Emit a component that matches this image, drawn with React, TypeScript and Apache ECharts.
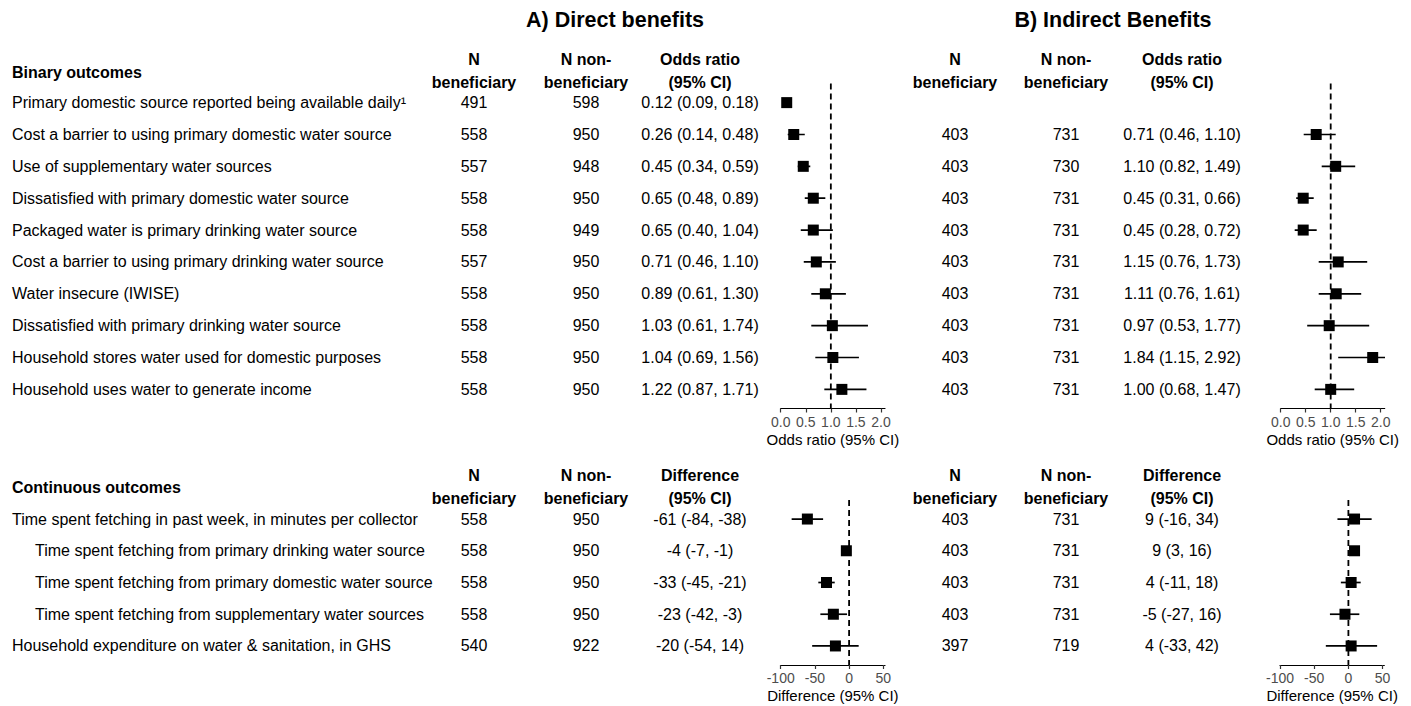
import React, { useEffect, useRef } from "react";
import * as echarts from "echarts";

const FONT = "'Liberation Sans', Arial, Helvetica, sans-serif";

// ---------- Binary outcomes ----------
const binaryOutcomes = [
  "Primary domestic source reported being available daily\u00B9",
  "Cost a barrier to using primary domestic water source",
  "Use of supplementary water sources",
  "Dissatisfied with primary domestic water source",
  "Packaged water is primary drinking water source",
  "Cost a barrier to using primary drinking water source",
  "Water insecure (IWISE)",
  "Dissatisfied with primary drinking water source",
  "Household stores water used for domestic purposes",
  "Household uses water to generate income",
];
const binaryDirectNBen = [491, 558, 557, 558, 558, 557, 558, 558, 558, 558];
const binaryDirectNNon = [598, 950, 948, 950, 949, 950, 950, 950, 950, 950];
const binaryDirectEst = [0.12, 0.26, 0.45, 0.65, 0.65, 0.71, 0.89, 1.03, 1.04, 1.22];
const binaryDirectLo = [0.09, 0.14, 0.34, 0.48, 0.4, 0.46, 0.61, 0.61, 0.69, 0.87];
const binaryDirectHi = [0.18, 0.48, 0.59, 0.89, 1.04, 1.1, 1.3, 1.74, 1.56, 1.71];

const binaryIndirectNBen = [null, 403, 403, 403, 403, 403, 403, 403, 403, 403];
const binaryIndirectNNon = [null, 731, 730, 731, 731, 731, 731, 731, 731, 731];
const binaryIndirectEst = [null, 0.71, 1.1, 0.45, 0.45, 1.15, 1.11, 0.97, 1.84, 1.0];
const binaryIndirectLo = [null, 0.46, 0.82, 0.31, 0.28, 0.76, 0.76, 0.53, 1.15, 0.68];
const binaryIndirectHi = [null, 1.1, 1.49, 0.66, 0.72, 1.73, 1.61, 1.77, 2.92, 1.47];

// ---------- Continuous outcomes ----------
const contOutcomes = [
  "Time spent fetching in past week, in minutes per collector",
  "Time spent fetching from primary drinking water source",
  "Time spent fetching from primary domestic water source",
  "Time spent fetching from supplementary water sources",
  "Household expenditure on water & sanitation, in GHS",
];
const contIndent = [false, true, true, true, false];
const contDirectNBen = [558, 558, 558, 558, 540];
const contDirectNNon = [950, 950, 950, 950, 922];
const contDirectEst = [-61, -4, -33, -23, -20];
const contDirectLo = [-84, -7, -45, -42, -54];
const contDirectHi = [-38, -1, -21, -3, 14];

const contIndirectNBen = [403, 403, 403, 403, 397];
const contIndirectNNon = [731, 731, 731, 731, 719];
const contIndirectEst = [9, 9, 4, -5, 4];
const contIndirectLo = [-16, 3, -11, -27, -33];
const contIndirectHi = [34, 16, 18, 16, 42];

const orTicks = [0, 0.5, 1, 1.5, 2];
const diffTicks = [-100, -50, 0, 50];

type Panel = {
  est: (number | null)[];
  lo: (number | null)[];
  hi: (number | null)[];
  ref: number;
};

const fmtOR = (e: number | null, l: number | null, h: number | null) =>
  e == null ? "" : `${e.toFixed(2)} (${(l as number).toFixed(2)}, ${(h as number).toFixed(2)})`;
const fmtDiff = (e: number | null, l: number | null, h: number | null) =>
  e == null ? "" : `${e} (${l}, ${h})`;

export default function App() {
  const ref = useRef<HTMLDivElement>(null);
  useEffect(() => {
    const chart = echarts.init(ref.current!, null, { renderer: "svg" });

    const topGrid = { top: 83.5, height: 325 };
    const botGrid = { top: 500, height: 165 };
    const grids = [
      { left: 780.7, width: 104.3, ...topGrid },
      { left: 1280.7, width: 104.0, ...topGrid },
      { left: 780.7, width: 104.3, ...botGrid },
      { left: 1280.0, width: 104.3, ...botGrid },
    ];
    const isOR = [true, true, false, false];
    const yMax = [9.6, 9.6, 4.6, 4.6];

    const panels: Panel[] = [
      { est: binaryDirectEst, lo: binaryDirectLo, hi: binaryDirectHi, ref: 1 },
      { est: binaryIndirectEst, lo: binaryIndirectLo, hi: binaryIndirectHi, ref: 1 },
      { est: contDirectEst, lo: contDirectLo, hi: contDirectHi, ref: 0 },
      { est: contIndirectEst, lo: contIndirectLo, hi: contIndirectHi, ref: 0 },
    ];

    const xAxes = grids.map((_, g) => ({
      type: "value",
      gridIndex: g,
      min: isOR[g] ? 0 : -100,
      max: isOR[g] ? 2.08 : 52.5,
      splitLine: { show: false },
      axisLine: { show: true, onZero: false, lineStyle: { color: "#000", width: 1.2 } },
      axisTick: {
        show: true,
        length: 4,
        lineStyle: { color: "#333", width: 1.2 },
        customValues: isOR[g] ? orTicks : diffTicks,
      },
      axisLabel: {
        customValues: isOR[g] ? orTicks : diffTicks,
        formatter: (v: number) => (isOR[g] ? v.toFixed(1) : String(v)),
        color: "#4D4D4D",
        fontSize: 14,
        fontFamily: FONT,
        margin: 6,
        hideOverlap: false,
      },
      name: isOR[g] ? "Odds ratio (95% CI)" : "Difference (95% CI)",
      nameLocation: "middle",
      nameGap: 23,
      nameTextStyle: { color: "#000", fontSize: 15, fontFamily: FONT },
    }));

    const yAxes = grids.map((_, g) => ({
      type: "value",
      gridIndex: g,
      inverse: true,
      min: -0.6,
      max: yMax[g],
      show: false,
    }));

    const series: any[] = [];
    panels.forEach((p, g) => {
      series.push({
        type: "line",
        xAxisIndex: g,
        yAxisIndex: g,
        data: [
          [p.ref, -0.6],
          [p.ref, yMax[g]],
        ],
        symbol: "none",
        lineStyle: { color: "#000", width: 1.8, type: [6, 4] },
        z: 1,
        silent: true,
      });
      const bars: number[][] = [];
      const pts: number[][] = [];
      p.est.forEach((e, i) => {
        if (e == null) return;
        bars.push([p.lo[i] as number, p.hi[i] as number, i]);
        pts.push([e, i]);
      });
      series.push({
        type: "custom",
        xAxisIndex: g,
        yAxisIndex: g,
        clip: true,
        data: bars,
        encode: { x: [0, 1], y: 2 },
        renderItem: (params: any, api: any) => {
          const a = api.coord([api.value(0), api.value(2)]);
          const b = api.coord([api.value(1), api.value(2)]);
          return {
            type: "line",
            shape: { x1: a[0], y1: a[1], x2: b[0], y2: b[1] },
            style: { stroke: "#000", lineWidth: 1.7 },
          };
        },
        z: 2,
        silent: true,
      });
      series.push({
        type: "scatter",
        xAxisIndex: g,
        yAxisIndex: g,
        data: pts,
        symbol: "rect",
        symbolSize: 11,
        itemStyle: { color: "#000", opacity: 1 },
        z: 3,
        silent: true,
      });
    });

    chart.setOption({
      animation: false,
      backgroundColor: "#fff",
      grid: grids,
      xAxis: xAxes,
      yAxis: yAxes,
      series,
    });

    const rowY = (g: number, i: number) =>
      (chart.convertToPixel({ gridIndex: g } as any, [0, i]) as number[])[1];

    const texts: any[] = [];
    const txt = (
      text: string,
      x: number,
      y: number,
      opts: { align?: string; bold?: boolean; size?: number } = {}
    ) => {
      texts.push({
        type: "text",
        x,
        y,
        silent: true,
        style: {
          text,
          fill: "#000",
          fontFamily: FONT,
          fontSize: opts.size ?? 16,
          fontWeight: opts.bold ? "bold" : "normal",
          align: opts.align ?? "center",
          verticalAlign: "middle",
        },
      });
    };

    // Panel titles
    txt("A) Direct benefits", 615, 20, { bold: true, size: 21.5 });
    txt("B) Indirect Benefits", 1113, 20, { bold: true, size: 21.5 });

    const leftCols = { nb: 474, nn: 586, est: 700 };
    const rightCols = { nb: 955, nn: 1066, est: 1182 };

    // Binary section
    {
      const y0 = rowY(0, 0);
      txt("Binary outcomes", 12, y0 - 30, { bold: true, align: "left" });
      [leftCols, rightCols].forEach((c) => {
        txt("N", c.nb, y0 - 43.5, { bold: true });
        txt("beneficiary", c.nb, y0 - 20, { bold: true });
        txt("N non-", c.nn, y0 - 43.5, { bold: true });
        txt("beneficiary", c.nn, y0 - 20, { bold: true });
        txt("Odds ratio", c.est, y0 - 43.5, { bold: true });
        txt("(95% CI)", c.est, y0 - 20, { bold: true });
      });
      binaryOutcomes.forEach((name, i) => {
        const y = rowY(0, i);
        txt(name, 12, y, { align: "left" });
        txt(String(binaryDirectNBen[i]), leftCols.nb, y);
        txt(String(binaryDirectNNon[i]), leftCols.nn, y);
        txt(fmtOR(binaryDirectEst[i], binaryDirectLo[i], binaryDirectHi[i]), leftCols.est, y);
        if (binaryIndirectEst[i] != null) {
          txt(String(binaryIndirectNBen[i]), rightCols.nb, y);
          txt(String(binaryIndirectNNon[i]), rightCols.nn, y);
          txt(fmtOR(binaryIndirectEst[i], binaryIndirectLo[i], binaryIndirectHi[i]), rightCols.est, y);
        }
      });
    }

    // Continuous section
    {
      const y0 = rowY(2, 0);
      txt("Continuous outcomes", 12, y0 - 32, { bold: true, align: "left" });
      [leftCols, rightCols].forEach((c) => {
        txt("N", c.nb, y0 - 44, { bold: true });
        txt("beneficiary", c.nb, y0 - 20.5, { bold: true });
        txt("N non-", c.nn, y0 - 44, { bold: true });
        txt("beneficiary", c.nn, y0 - 20.5, { bold: true });
        txt("Difference", c.est, y0 - 44, { bold: true });
        txt("(95% CI)", c.est, y0 - 20.5, { bold: true });
      });
      contOutcomes.forEach((name, i) => {
        const y = rowY(2, i);
        txt(name, contIndent[i] ? 35 : 12, y, { align: "left" });
        txt(String(contDirectNBen[i]), leftCols.nb, y);
        txt(String(contDirectNNon[i]), leftCols.nn, y);
        txt(fmtDiff(contDirectEst[i], contDirectLo[i], contDirectHi[i]), leftCols.est, y);
        txt(String(contIndirectNBen[i]), rightCols.nb, y);
        txt(String(contIndirectNNon[i]), rightCols.nn, y);
        txt(fmtDiff(contIndirectEst[i], contIndirectLo[i], contIndirectHi[i]), rightCols.est, y);
      });
    }

    chart.setOption({ graphic: texts });

    return () => chart.dispose();
  }, []);

  return (
    <div
      ref={ref}
      style={{ position: "absolute", left: 0, top: 0, width: 1411, height: 706 }}
    />
  );
}
